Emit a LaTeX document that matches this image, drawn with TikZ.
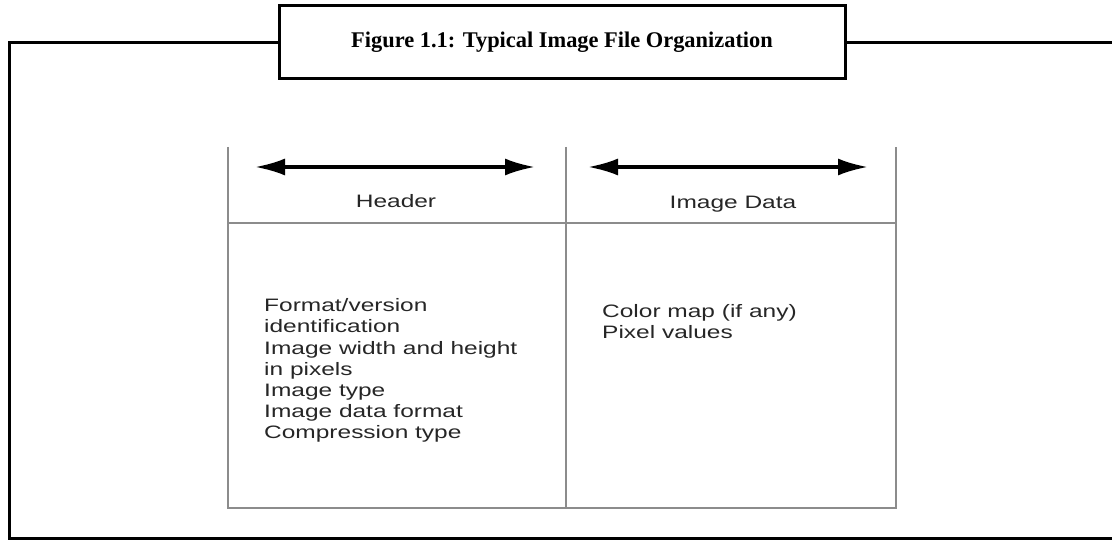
\documentclass[tikz,border=0pt]{standalone}
\usepackage{fontspec}
\usepackage{tikz}
\usetikzlibrary{arrows.meta}
\newfontfamily\tablefont[FakeStretch=1.36]{Liberation Sans}
\newfontfamily\titlefont{Liberation Serif}

\begin{document}
\begin{tikzpicture}[x=1pt, y=-1pt,
  frame/.style={line width=3pt},
  cell/.style={draw=black!45, line width=1.8pt},
  span/.style={{Latex[length=30pt,width=17pt]}-{Latex[length=30pt,width=17pt]}, line width=3.3pt},
  txt/.style={font=\tablefont\fontsize{18}{21}\selectfont, text=black!85, inner sep=0pt}]
  % Page size as the original
  \useasboundingbox (0,0) rectangle (1112,540);

  % Caption box and the outer frame
  \node[draw, frame, minimum width=566pt, minimum height=73pt, inner sep=0pt,
        font=\titlefont\bfseries\fontsize{22.4}{26}\selectfont] (title) at (562,42.5)
        {Figure 1.1: Typical Image File Organization};
  \coordinate (nw) at (9.5,42.5);
  \coordinate (sw) at (9.5,538.5);
  \coordinate (se) at (1112,538.5);
  \coordinate (ne) at (1112,42.5);
  \draw[frame] (title.west) -- (nw) -- (sw) -- (se);
  \draw[frame] (title.east) -- (ne);

  % Grey table lines
  \draw[cell] (228,147) |- (896,508) -- (896,147);
  \draw[cell] (566,147) -- (566,508);
  \draw[cell] (228,223) -- (896,223);

  % Double arrows over the two columns
  \coordinate (hdrL) at (255,167);
  \coordinate (hdrR) at (535,167);
  \coordinate (datL) at (588,167);
  \coordinate (datR) at (868,167);
  \draw[span] (hdrL) -- (hdrR);
  \draw[span] (datL) -- (datR);

  \node[txt, anchor=base] (hdr) at (396,208) {Header};
  \node[txt, anchor=base] (dat) at (733,209) {Image Data};

  % Column contents
  \foreach \t [count=\i] in {Format/version, identification, Image width and height,
      in pixels, Image type, Image data format, Compression type}
    \node[txt, anchor=base west] (hd\i) at (264,{291+21*\i}) {\t};
  \foreach \t [count=\i] in {Color map (if any), Pixel values}
    \node[txt, anchor=base west] (dt\i) at (602,{296+21*\i}) {\t};
\end{tikzpicture}
\end{document}
